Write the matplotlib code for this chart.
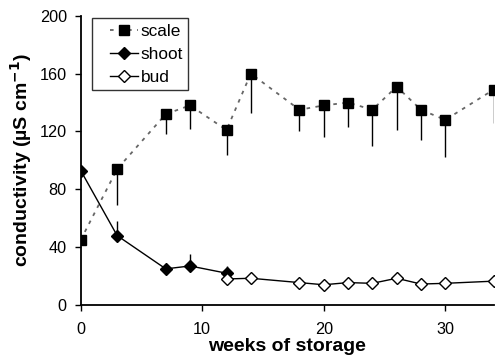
import matplotlib
matplotlib.use("Agg")
import matplotlib.pyplot as plt
from matplotlib.legend_handler import HandlerLine2D

plt.rcParams['font.family'] = ['Liberation Sans', 'DejaVu Sans']

scale_x = [0, 3, 7, 9, 12, 14, 18, 20, 22, 24, 26, 28, 30, 34]
scale_y = [45, 94, 132, 138, 121, 160, 135, 138, 140, 135, 151, 135, 128, 149]
scale_err = [0, 25, 14, 16, 17, 27, 15, 22, 17, 25, 30, 21, 26, 23]

shoot_x = [0, 3, 7, 9, 12]
shoot_y = [93, 48, 25, 27, 22]
shoot_err = [0, 10, 1, 8, 5]

bud_x = [12, 14, 18, 20, 22, 24, 26, 28, 30, 34]
bud_y = [18, 18.5, 15.5, 14, 15.5, 15, 18.5, 14.5, 15, 16.5]
bud_err = [0, 0, 3, 0, 0, 0, 2, 0, 0, 4]

x_ticks = [0, 10, 20, 30]
y_ticks = [0, 40, 80, 120, 160, 200]

fig = plt.figure(figsize=(4.96, 3.58), dpi=100)
ax = fig.add_axes([0.1627, 0.148, 0.833, 0.808])

# error bars: scale downward, shoot/bud upward
ax.errorbar(scale_x, scale_y, yerr=[scale_err, [0]*len(scale_err)], fmt='none',
            ecolor='black', elinewidth=1.0, capsize=0, zorder=2)
ax.errorbar(shoot_x, shoot_y, yerr=[[0]*len(shoot_err), shoot_err], fmt='none',
            ecolor='black', elinewidth=1.0, capsize=0, zorder=2)
ax.errorbar(bud_x, bud_y, yerr=[[0]*len(bud_err), bud_err], fmt='none',
            ecolor='black', elinewidth=1.0, capsize=0, zorder=2)

l1, = ax.plot(scale_x, scale_y, linestyle=(0, (2, 3)), color='#666666', linewidth=1.3,
              marker='s', markersize=7, markerfacecolor='black', markeredgecolor='black',
              label='scale', zorder=3)
l2, = ax.plot(shoot_x, shoot_y, linestyle='-', color='black', linewidth=1.0,
              marker='D', markersize=6.5, markerfacecolor='black', markeredgecolor='black',
              label='shoot', zorder=4)
l3, = ax.plot(bud_x, bud_y, linestyle='-', color='black', linewidth=1.0,
              marker='D', markersize=6.5, markerfacecolor='white', markeredgecolor='black',
              label='bud', zorder=4)

ax.set_xlim(0, 34)
ax.set_ylim(0, 200)
ax.set_xticks(x_ticks)
ax.set_yticks(y_ticks)
ax.spines['top'].set_visible(False)
ax.spines['right'].set_visible(False)
ax.spines['left'].set_linewidth(1.3)
ax.spines['bottom'].set_linewidth(1.3)
ax.tick_params(axis='both', direction='out', length=4, width=1.0, labelsize=11.7)
ax.tick_params(axis='x', pad=8)
ax.tick_params(axis='y', pad=6)
for sp in ['left', 'bottom']:
    ax.spines[sp].set_clip_on(False)

ax.set_xlabel('weeks of storage', fontsize=14, fontweight='bold', labelpad=1)
ax.set_ylabel('conductivity (µS cm$^{\\mathbf{-1}}$)', fontsize=14, fontweight='bold', labelpad=4)

hm = {l: HandlerLine2D(xpad=0.8) for l in (l1, l2, l3)}
leg = ax.legend(handles=[l1, l2, l3], loc='upper left', bbox_to_anchor=(0.02, 1.0),
                frameon=True, fancybox=False, edgecolor='black', fontsize=12.4,
                handlelength=2.4, handletextpad=0.15, handler_map=hm,
                borderpad=0.3, labelspacing=0.48, borderaxespad=0.15)
leg.get_frame().set_linewidth(1.0)

fig.savefig('out.png', dpi=100)
